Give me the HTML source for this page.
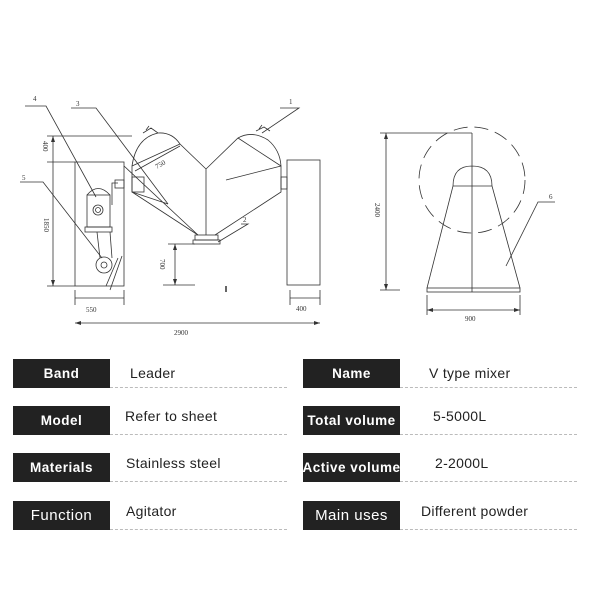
<!DOCTYPE html>
<html><head><meta charset="utf-8"><style>
body{margin:0;background:#fff;width:600px;height:600px;overflow:hidden;position:relative;font-family:"Liberation Sans",sans-serif}
.lb{position:absolute;width:97px;height:29px;background:#222;color:#fff;font-size:13.5px;font-weight:bold;display:flex;align-items:center;justify-content:center;letter-spacing:0.5px;white-space:nowrap}
.v{position:absolute;font-size:14px;color:#222;letter-spacing:0.3px;line-height:16px}
.d{position:absolute;height:0;border-top:1px dashed #bbb;width:177px}
</style></head><body>
<svg width="600" height="350" style="position:absolute;left:0;top:0" font-family="Liberation Serif" font-size="7" fill="none" stroke="#333" stroke-width="0.8">
<rect x="75" y="162" width="49" height="124"/>
<rect x="287" y="160" width="33" height="125"/>
<path d="M132 166 Q136 138 158 133 Q172 132 180 144 L206 169 L238 138 Q252 130 268 140 Q280 150 281 166 L281 192 L215 235 M132 166 L132 192 L198 235 M206 169 L206 235"/>
<path d="M132 166 L180 144 M238 138 L281 166"/>
<path d="M124 166 L198 235 M226 180 L281 166 M132 192 L168 204"/>
<rect x="132" y="177" width="12" height="15"/>
<rect x="281" y="177" width="6" height="12"/>
<rect x="115" y="180" width="9" height="8"/>
<rect x="195" y="235" width="23" height="5"/>
<rect x="193" y="240" width="27" height="4"/>
<path d="M143 133 L151 128 L158 133 M146 130 L149 126 M256 131 L264 127 L270 131 M259 129 L262 125"/>
<rect x="87" y="195" width="23" height="32"/>
<path d="M87 195 Q98 182 110 195"/>
<rect x="85" y="227" width="27" height="5"/>
<circle cx="98" cy="210" r="5"/><circle cx="98" cy="210" r="2.5"/>
<path d="M97 232 L100 258 M110 232 L112 258 M112 205 L112 183 L118 183"/>
<circle cx="104" cy="265" r="8"/><circle cx="104" cy="265" r="3"/>
<path d="M122 256 L110 290 M118 258 L106 286"/>
<path d="M53 136 L53 286 M47 136 L132 136 M47 162 L75 162 M47 286 L75 286"/>
<path d="M175 244 L175 285 M168 244 L195 244 M163 285 L195 285"/>
<path d="M75 290 L75 305 M124 290 L124 305 M75 298 L124 298 M290 290 L290 305 M320 290 L320 305 M290 298 L320 298 M75 323 L320 323"/>
<path d="M135 171 L180 146"/>
<path d="M25 106 L46 106 L96 197 M71 108 L96 108 L168 204 M20 182 L43 182 L102 258 M280 108 L299 108 L262 133 M241 224 L248 224 L218 242"/>
<path d="M226 286 L226 292" stroke-width="1.5"/>
<circle cx="472" cy="180" r="53" stroke-dasharray="14 7"/>
<path d="M453 186 Q453 166 472 166 Q492 166 492 186 Z M453 186 L427 288 M492 186 L520 288 M472 133 L472 292"/>
<rect x="427" y="288" width="93" height="4"/>
<path d="M386 133 L386 290 M380 133 L472 133 M380 290 L400 290 M427 295 L427 315 M520 295 L520 315 M427 310 L520 310 M506 266 L538 202 L555 202"/>
<g fill="#333" stroke="none">
<text x="33" y="101">4</text><text x="76" y="106">3</text><text x="22" y="180">5</text><text x="289" y="104">1</text><text x="243" y="222">2</text><text x="549" y="199">6</text>
<text x="86" y="312">550</text><text x="296" y="311">400</text><text x="174" y="335">2900</text><text x="465" y="321">900</text>
<text transform="translate(44,218) rotate(90)">1850</text><text transform="translate(43,141) rotate(90)">400</text>
<text transform="translate(160,259) rotate(90)">700</text><text transform="translate(375,203) rotate(90)">2400</text>
<text transform="translate(157,169) rotate(-30)">750</text>
<polygon points="53,136 51,142 55,142"/><polygon points="53,286 51,280 55,280"/><polygon points="175,285 173,279 177,279"/><polygon points="175,244 173,250 177,250"/>
<polygon points="386,133 384,139 388,139"/><polygon points="386,290 384,284 388,284"/>
<polygon points="75,323 81,321 81,325"/><polygon points="320,323 314,321 314,325"/>
<polygon points="427,310 433,308 433,312"/><polygon points="520,310 514,308 514,312"/>
</g>
</svg>
<div class="lb" style="left:13px;top:359px">Band</div><div class="v" style="left:130px;top:365px">Leader</div><div class="d" style="left:110px;top:387px"></div>
<div class="lb" style="left:13px;top:406px">Model</div><div class="v" style="left:125px;top:408px">Refer to sheet</div><div class="d" style="left:110px;top:434px"></div>
<div class="lb" style="left:13px;top:453px">Materials</div><div class="v" style="left:126px;top:455px">Stainless steel</div><div class="d" style="left:110px;top:481px"></div>
<div class="lb" style="left:13px;top:501px;font-weight:normal;font-size:15px">Function</div><div class="v" style="left:126px;top:503px">Agitator</div><div class="d" style="left:110px;top:529px"></div>
<div class="lb" style="left:303px;top:359px">Name</div><div class="v" style="left:429px;top:365px">V type mixer</div><div class="d" style="left:400px;top:387px"></div>
<div class="lb" style="left:303px;top:406px">Total volume</div><div class="v" style="left:433px;top:408px">5-5000L</div><div class="d" style="left:400px;top:434px"></div>
<div class="lb" style="left:303px;top:453px">Active volume</div><div class="v" style="left:435px;top:455px">2-2000L</div><div class="d" style="left:400px;top:481px"></div>
<div class="lb" style="left:303px;top:501px;font-weight:normal;font-size:15px">Main uses</div><div class="v" style="left:421px;top:503px">Different powder</div><div class="d" style="left:400px;top:529px"></div>
</body></html>
